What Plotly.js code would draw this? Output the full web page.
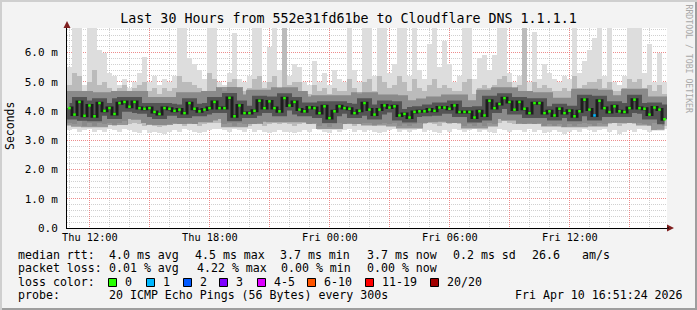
<!DOCTYPE html>
<html><head><meta charset="utf-8">
<script src="https://cdn.plot.ly/plotly-3.0.1.min.js"></script>
<style>html,body{margin:0;padding:0;background:#f3f3f3;}#chart{width:697px;height:310px;}</style>
</head><body><div id="chart"></div>
<script>
// ---- DATA (15-minute steps, 30 hours, values in ms) ----
const startTime = '2026-04-09 10:51:24';
const endTime = '2026-04-10 16:51:24';
const stepMinutes = 15;

const med = [4.10,3.88,4.31,3.84,4.19,3.82,4.27,4.01,4.10,3.90,4.27,4.31,4.15,4.31,4.10,4.08,4.10,3.97,3.90,4.10,4.08,4.01,4.05,3.93,4.27,4.08,3.99,4.05,4.10,4.31,
 4.10,4.10,4.45,3.82,4.19,3.93,3.93,4.01,4.35,4.10,4.33,4.10,3.99,4.44,4.19,4.31,4.05,3.99,4.12,4.10,3.93,4.16,3.76,3.99,4.16,4.10,4.08,3.93,4.01,4.27,
 4.05,3.88,4.05,4.19,4.12,4.16,3.85,3.90,3.78,3.97,3.99,3.99,4.05,4.01,4.12,4.12,4.08,4.19,3.97,3.97,3.97,3.78,3.99,3.85,4.35,4.10,4.24,4.44,4.31,4.05,
 4.31,4.08,3.93,4.27,4.27,3.93,3.99,3.85,4.08,3.93,4.01,3.82,3.99,4.39,4.05,3.85,4.35,4.10,3.97,4.16,3.99,3.97,4.10,4.39,4.10,4.08,3.88,4.12,4.05,3.72];

const maxRtt = [5.5,7.5,7.5,4.9,7.5,7.5,6.1,6.0,5.3,5.2,4.9,5.1,4.8,5.0,5.3,5.85,5.0,5.2,4.9,5.1,5.0,5.2,7.5,7.5,5.8,5.6,5.4,5.1,7.5,7.5,
 5.0,4.9,5.3,6.66,5.1,5.0,5.2,7.5,7.5,5.0,6.2,7.5,5.4,7.5,5.2,5.6,5.5,5.0,4.9,5.7,5.0,5.3,4.9,5.4,5.1,5.0,7.5,5.4,5.0,7.5,
 7.5,5.2,7.5,7.5,5.3,5.6,7.5,7.5,5.2,7.5,5.4,5.1,6.3,7.5,5.5,6.4,5.6,5.0,5.2,7.5,7.5,5.1,5.8,5.9,5.4,5.9,7.5,7.5,5.3,5.0,
 5.2,7.5,5.0,6.7,5.1,5.6,5.3,5.1,5.0,5.2,5.1,7.5,5.3,5.7,6.1,6.5,7.5,5.2,7.5,5.0,4.9,5.2,7.5,7.5,7.5,5.3,6.3,5.0,6.0,5.0];

const hiRtt = [4.9,5.3,5.2,4.7,5.0,5.4,4.9,5.0,4.8,4.7,4.8,4.9,4.7,4.8,4.9,5.0,4.7,4.8,4.6,4.8,4.7,4.8,5.2,5.0,5.0,4.9,4.8,4.7,5.3,5.1,
 4.8,4.7,5.0,5.1,4.8,4.7,4.8,5.1,5.2,4.8,5.0,5.2,4.8,7.5,4.9,5.0,5.0,4.7,4.6,4.9,4.7,4.8,4.6,4.8,4.7,4.7,5.1,4.8,4.6,5.0,
 5.1,4.7,5.2,5.0,4.8,4.9,5.2,5.0,4.7,5.1,4.8,4.7,4.9,5.1,4.8,4.9,4.8,4.7,4.7,5.0,5.1,4.6,4.8,4.9,4.8,4.9,5.1,5.2,5.0,4.8,
 4.9,7.5,4.7,5.0,4.8,4.9,4.8,4.7,4.7,4.8,4.7,5.2,4.8,4.9,5.0,5.0,5.1,4.8,5.0,4.7,4.7,4.8,5.1,5.0,5.1,4.8,4.9,4.7,4.9,4.6];

const loRtt = [3.6,3.55,3.65,3.5,3.6,3.5,3.6,3.55,3.6,3.5,3.6,3.65,3.55,3.6,3.55,3.5,3.55,3.5,3.45,3.5,3.55,3.6,3.55,3.5,3.6,3.55,3.5,3.55,3.6,3.6,
 3.6,3.55,3.6,3.5,3.6,3.55,3.5,3.55,3.6,3.5,3.55,3.6,3.55,3.6,3.55,3.5,3.55,3.6,3.55,3.6,3.5,3.55,3.45,3.55,3.6,3.55,3.6,3.5,3.55,3.6,
 3.6,3.5,3.55,3.6,3.55,3.6,3.5,3.55,3.5,3.55,3.6,3.55,3.6,3.55,3.5,3.6,3.55,3.6,3.55,3.5,3.55,3.5,3.6,3.5,3.6,3.55,3.6,3.65,3.6,3.55,
 3.6,3.55,3.6,3.55,3.6,3.5,3.55,3.5,3.55,3.45,3.55,3.5,3.55,3.6,3.55,3.5,3.6,3.55,3.55,3.6,3.5,3.55,3.6,3.55,3.6,3.55,3.5,3.6,3.55,3.5];

const minRtt = [3.35,3.4,3.3,3.35,3.4,3.3,3.35,3.3,3.4,3.35,3.3,3.4,3.35,3.3,3.25,3.35,3.25,3.3,3.25,3.2,3.3,3.35,3.3,3.4,3.35,3.3,3.25,3.3,3.35,3.4,
 3.4,3.35,3.3,3.4,3.35,3.3,3.4,3.3,3.35,3.3,3.25,3.3,3.35,3.3,3.3,3.25,3.3,3.35,3.3,3.4,3.35,3.3,3.25,3.35,3.3,3.35,3.4,3.3,3.35,3.3,
 3.35,3.3,3.25,3.3,3.35,3.4,3.3,3.35,3.3,3.35,3.4,3.3,3.35,3.3,3.25,3.35,3.3,3.4,3.35,3.3,3.35,3.4,3.3,3.35,3.3,3.25,3.4,3.35,3.3,3.35,
 3.35,3.3,3.4,3.3,3.35,3.25,3.3,3.35,3.3,3.2,3.3,3.35,3.3,3.4,3.35,3.3,3.35,3.4,3.3,3.35,3.2,3.3,3.35,3.3,3.4,3.35,3.3,3.35,3.4,3.4];

const lossCount = [0,0,0,0,0,0,0,0,0,0,0,0,0,0,0,0,0,0,0,0,0,0,0,0,0,0,0,0,0,0,
 0,0,0,0,0,0,0,0,0,0,0,0,0,0,0,0,0,0,0,0,0,0,0,0,0,0,0,0,0,0,
 0,0,0,0,0,0,0,0,0,0,0,0,0,0,0,0,0,0,0,0,0,0,0,0,0,0,0,0,0,0,
 0,0,0,0,0,0,0,0,0,0,0,0,0,0,0,1,0,0,0,0,0,0,0,0,0,0,0,0,0,0];

const xTickVals = ['2026-04-09 12:00','2026-04-09 15:00','2026-04-09 18:00','2026-04-09 21:00','2026-04-10 00:00',
  '2026-04-10 03:00','2026-04-10 06:00','2026-04-10 09:00','2026-04-10 12:00','2026-04-10 15:00'];
const xTickText = ['Thu 12:00','','Thu 18:00','','Fri 00:00','','Fri 06:00','','Fri 12:00',''];
const yTickVals = [0,1,2,3,4,5,6];
const yTickText = ['0.0','1.0 m','2.0 m','3.0 m','4.0 m','5.0 m','6.0 m'];

const lossLabels = ['0','1','2','3','4-5','6-10','11-19','20/20'];
const lossColors = ['#26ff00','#00b8ff','#0059ff','#7e00ff','#dd00ff','#ff5500','#ff0000','#a10000'];

const titleText = 'Last 30 Hours from 552e31fd61be to Cloudflare DNS 1.1.1.1';
const rttRow = ['median rtt:','4.0 ms avg','4.5 ms max','3.7 ms min','3.7 ms now','0.2 ms sd','26.6','am/s'];
const lossRow = ['packet loss:','0.01 % avg','4.22 % max','0.00 % min','0.00 % now'];
const probeRow = ['probe:','20 ICMP Echo Pings (56 Bytes) every 300s','Fri Apr 10 16:51:24 2026'];

// ---- BUILD ----
const t0 = Date.parse(startTime.replace(' ','T') + 'Z');
const stepMs = stepMinutes * 60000;
const xs = med.map((_, i) => t0 + (i + 0.5) * stepMs);

const traces = [
  {type:'bar', x: xs, base: minRtt, y: maxRtt.map((v,i)=>v-minRtt[i]), width: stepMs,
   marker:{color:'#dddddd', line:{width:0}}, hoverinfo:'skip'},
  {type:'bar', x: xs, base: loRtt, y: hiRtt.map((v,i)=>v-loRtt[i]), width: stepMs,
   marker:{color:'#bbbbbb', line:{width:0}}, hoverinfo:'skip'},
  {type:'scatter', mode:'lines', x: xs, y: med, line:{shape:'hvh', color:'rgba(105,105,105,0.6)', width:22}, hoverinfo:'skip'},
  {type:'scatter', mode:'lines', x: xs, y: med, line:{shape:'hvh', color:'rgba(55,55,55,0.65)', width:10}, hoverinfo:'skip'},
  {type:'scatter', mode:'lines', x: xs, y: med, line:{shape:'hvh', color:'rgba(20,20,20,0.85)', width:3}, hoverinfo:'skip'},
  {type:'scatter', mode:'markers', x: xs, y: med,
   marker:{symbol:'square', size:2.6, color: lossCount.map(c => lossColors[c]), line:{width:0}}, hoverinfo:'skip'}
];

// pixel helpers for text/decoration placement (plot area: x 67..667, y 28..228)
const L = 67, R = 667, T = 28, B = 228;
const px = x => (x - L) / (R - L);
const py = y => (B - y) / (B - T);
const mono = 'DejaVu Sans Mono';
const legSize = 11.6;
const ann = [];
function txt(text, x, y, size, opts) {
  ann.push(Object.assign({text: text.replace(/ /g,'\u00a0'), xref:'paper', yref:'paper', x: px(x), y: py(y),
    xanchor:'left', yanchor:'middle', showarrow:false, font:{family:mono, size:size, color:'#000'}}, opts||{}));
}
const rttX = [16,107,193,278,365,451,530,580];
rttRow.forEach((s,i)=>txt(s, rttX[i], 255, legSize));
const lossX = [16,107,195,279,365];
lossRow.forEach((s,i)=>txt(s, lossX[i], 268, legSize));
txt('loss color:', 16, 282, legSize);
const boxX = [108,146,183,219,257,307,365,430];
const shapes = [];
lossLabels.forEach((s,i)=>{
  shapes.push({type:'rect', xref:'paper', yref:'paper', x0:px(boxX[i]+0.5), x1:px(boxX[i]+8.5), y0:py(286.5), y1:py(278.5),
    fillcolor: lossColors[i], line:{color:'#000', width:1}});
  txt(s, boxX[i]+15, 282, legSize);
});
const probeX = [16,107,513];
probeRow.forEach((s,i)=>txt(s, probeX[i], 295, legSize));
// y axis title
ann.push({text:'Seconds', xref:'paper', yref:'paper', x:px(10), y:py(126), xanchor:'center', yanchor:'middle',
  textangle:-90, showarrow:false, font:{family:mono, size:11.5, color:'#000'}});
// watermark
ann.push({text:'RRDTOOL / TOBI OETIKER'.replace(/ /g,'\u00a0'), xref:'paper', yref:'paper', x:px(688.5), y:py(59),
  xanchor:'center', yanchor:'middle', textangle:90, showarrow:false, font:{family:mono, size:8.2, color:'#a8a8a8'}});

// frame
shapes.push({type:'rect', xref:'paper', yref:'paper', x0:px(0), x1:px(697), y0:py(310), y1:py(308), fillcolor:'#9e9e9e', line:{width:0}, layer:'below'});
shapes.push({type:'rect', xref:'paper', yref:'paper', x0:px(695), x1:px(697), y0:py(310), y1:py(0), fillcolor:'#9e9e9e', line:{width:0}, layer:'below'});
shapes.push({type:'rect', xref:'paper', yref:'paper', x0:px(0), x1:px(697), y0:py(2), y1:py(0), fillcolor:'#cfcfcf', line:{width:0}, layer:'below'});
shapes.push({type:'rect', xref:'paper', yref:'paper', x0:px(0), x1:px(2), y0:py(310), y1:py(0), fillcolor:'#cfcfcf', line:{width:0}, layer:'below'});
// axis arrows
const arrowCol = '#7f1f1f';
shapes.push({type:'path', xref:'paper', yref:'paper',
  path:`M ${px(63.5)} ${py(28)} L ${px(70.5)} ${py(28)} L ${px(67)} ${py(21)} Z`, fillcolor:arrowCol, line:{width:0}});
shapes.push({type:'path', xref:'paper', yref:'paper',
  path:`M ${px(667)} ${py(224.5)} L ${px(667)} ${py(231.5)} L ${px(674)} ${py(228)} Z`, fillcolor:arrowCol, line:{width:0}});
shapes.push({type:'line', xref:'paper', yref:'paper', x0:px(667), x1:px(669), y0:0, y1:0, line:{color:'#000', width:1}});

const layout = {
  width:697, height:310,
  margin:{l:L, r:697-R, t:T, b:310-B, pad:0},
  paper_bgcolor:'#f3f3f3', plot_bgcolor:'#ffffff',
  showlegend:false, barmode:'overlay', bargap:0,
  title:{text:titleText, font:{family:mono, size:13.3, color:'#000'}, x:0.5, xref:'container', y:1-18/310, yref:'container', yanchor:'middle'},
  xaxis:{type:'date', range:[startTime, endTime], tickvals:xTickVals, ticktext:xTickText,
    showgrid:true, gridcolor:'rgba(255,95,95,0.6)', griddash:'1px,1px', gridwidth:1,
    minor:{dtick:3600000, tick0:'2026-04-09 12:00', showgrid:true, gridcolor:'rgba(170,170,170,0.55)', griddash:'1px,1px', gridwidth:1},
    showline:true, linecolor:'#000', linewidth:1, ticks:'', zeroline:false,
    tickfont:{family:mono, size:10.3, color:'#000'}, layer:'above traces', fixedrange:true},
  yaxis:{range:[0, 6.84], tickvals:yTickVals, ticktext:yTickText,
    showgrid:true, gridcolor:'rgba(255,95,95,0.6)', griddash:'1px,1px', gridwidth:1,
    minor:{dtick:0.2, tick0:0, showgrid:true, gridcolor:'rgba(170,170,170,0.55)', griddash:'1px,1px', gridwidth:1},
    showline:true, linecolor:'#000', linewidth:1, ticks:'', zeroline:false, ticklabelstandoff:6,
    tickfont:{family:mono, size:11, color:'#000'}, layer:'above traces', fixedrange:true},
  annotations: ann,
  shapes: shapes
};
Plotly.newPlot('chart', traces, layout, {displayModeBar:false, staticPlot:true});
</script>
</body></html>
